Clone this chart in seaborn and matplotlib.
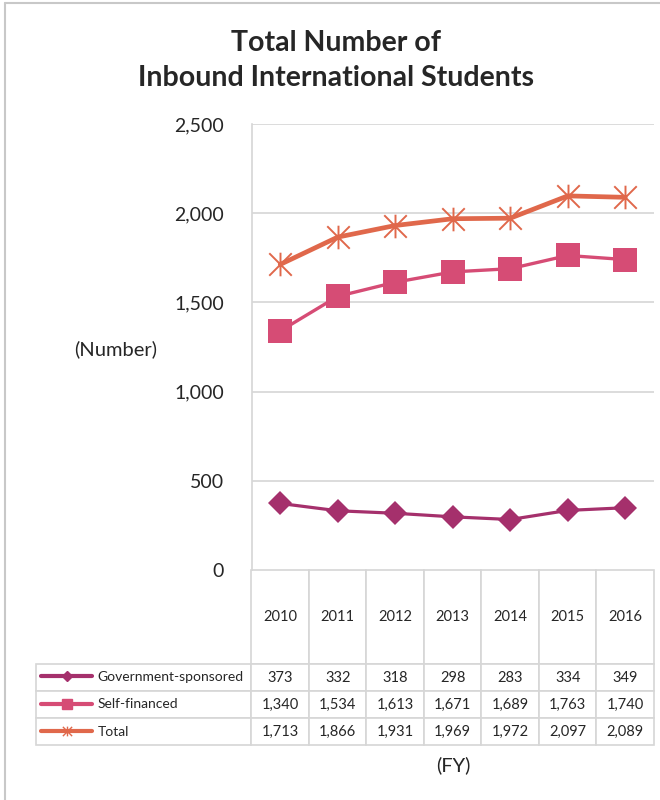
import matplotlib
matplotlib.use("Agg")
import matplotlib.pyplot as plt
import numpy as np
import pandas as pd
import seaborn as sns
from matplotlib.legend import Legend
from matplotlib.lines import Line2D
from matplotlib.path import Path

# data
years = ["2010", "2011", "2012", "2013", "2014", "2015", "2016"]
gov_sponsored = [373, 332, 318, 298, 283, 334, 349]
self_financed = [1340, 1534, 1613, 1671, 1689, 1763, 1740]
total = [1713, 1866, 1931, 1969, 1972, 2097, 2089]
series_names = ["Government-sponsored", "Self-financed", "Total"]
y_ticks = [0, 500, 1000, 1500, 2000, 2500]

colors = {"Government-sponsored": "#A5306C",
          "Self-financed": "#D64C75",
          "Total": "#E0684B"}
GRID = "#D6D6D6"

sns.set_theme(style="white")
plt.rcParams["font.family"] = ["Lato", "DejaVu Sans"]

# asterisk marker like the Excel "star"
star = Path([(-1, -1), (1, 1), (-1, 1), (1, -1), (0, -1.05), (0, 1.05)],
            [Path.MOVETO, Path.LINETO, Path.MOVETO, Path.LINETO, Path.MOVETO, Path.LINETO])

styles = {
    "Government-sponsored": dict(marker="D", markersize=12.5, linewidth=2.3, mew=0, key_ms=5),
    "Self-financed": dict(marker="s", markersize=17.5, linewidth=2.4, mew=0, key_ms=7),
    "Total": dict(marker=star, markersize=17, linewidth=3.4, mew=1.4, key_ms=7),
}

df = pd.DataFrame({
    "pos": np.tile(np.arange(len(years)), 3),
    "value": gov_sponsored + self_financed + total,
    "series": np.repeat(series_names, len(years)),
})

fig = plt.figure(figsize=(6.6, 8.0), dpi=100)
ax = fig.add_axes([251.5 / 660, 1 - 570 / 800, 402.5 / 660, 446 / 800])

for name in series_names:
    st = styles[name]
    sns.lineplot(data=df[df["series"] == name], x="pos", y="value", ax=ax,
                 color=colors[name], marker=st["marker"], markersize=st["markersize"],
                 linewidth=st["linewidth"], markeredgecolor=colors[name],
                 markeredgewidth=st["mew"], solid_joinstyle="round", legend=False)

ax.set_xlim(-0.5, len(years) - 0.5)
ax.set_ylim(0, 2500)
ax.set_yticks(y_ticks)
ax.set_yticklabels([f"{v:,}" for v in y_ticks], fontsize=14)
ax.set_xticks([])
ax.set_xlabel("")
ax.set_ylabel("")
ax.tick_params(axis="y", length=0, pad=20)
for v in y_ticks[1:]:
    ax.axhline(v, color=GRID, lw=1.2, zorder=0)
for s in ["top", "right", "bottom"]:
    ax.spines[s].set_visible(False)
ax.spines["left"].set_color(GRID)
ax.spines["left"].set_linewidth(1.2)

# data table below the plot; first column holds the legend keys
cell_text = [[""] + [f"{v:,}" for v in row] for row in (gov_sponsored, self_financed, total)]
tbl = ax.table(cellText=cell_text, colLabels=[""] + years,
               cellLoc="center", colLoc="center",
               bbox=[(36 - 251.5) / 402.5, (570 - 745) / 446, (654 - 36) / 402.5, 175 / 446])
tbl.auto_set_font_size(False)
tbl.set_fontsize(10.5)
for (r, c), cell in tbl.get_celld().items():
    cell.set_edgecolor(GRID)
    cell.set_linewidth(1.2)
    cell.set_width(215.5 if c == 0 else 57.5)
    cell.set_height(94 if r == 0 else 27)
    if r == 0 and c == 0:
        cell.visible_edges = ""

# legend keys inside the first-column cells
row_centers = [677, 704.5, 731.5]
for name, yc in zip(series_names, row_centers):
    st = styles[name]
    h = Line2D([], [], color=colors[name], lw=3, marker=st["marker"], markersize=st["key_ms"],
               markeredgecolor=colors[name], markeredgewidth=1.0)
    leg = Legend(ax, [h], [name], loc="center left", frameon=False,
                 bbox_to_anchor=((41 - 251.5) / 402.5, (570 - yc) / 446),
                 borderaxespad=0, borderpad=0, handlelength=3.7, handletextpad=0.35,
                 prop={"size": 10})
    ax.add_artist(leg)

fig.text(336 / 660, 1 - 43 / 800, "Total Number of", ha="center", va="center",
         fontsize=20.5, fontweight="bold")
fig.text(336 / 660, 1 - 78 / 800, "Inbound International Students", ha="center", va="center",
         fontsize=20.5, fontweight="bold")
fig.text(116 / 660, 1 - 349 / 800, "(Number)", ha="center", va="center", fontsize=14.5)
fig.text(453 / 660, 1 - 765 / 800, "(FY)", ha="center", va="center", fontsize=14.5)

# outer chart frame (top and left edges visible)
fig.add_artist(Line2D([5 / 660, 1], [1 - 3 / 800, 1 - 3 / 800], color="#C8C8C8", lw=1.5))
fig.add_artist(Line2D([5 / 660, 5 / 660], [0, 1 - 3 / 800], color="#C8C8C8", lw=1.5))

fig.savefig("out.png", dpi=100)
